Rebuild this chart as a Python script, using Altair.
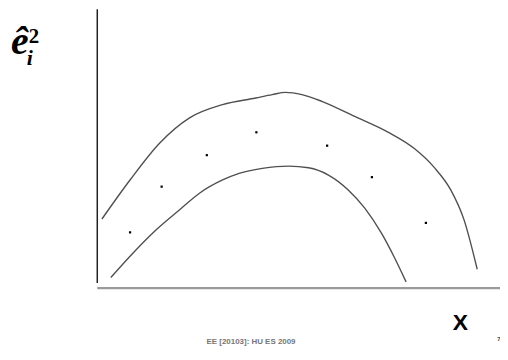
import altair as alt
import pandas as pd

# ---- data (abstract units) ----
point_x = [0.82, 1.61, 2.74, 3.98, 5.75, 6.87, 8.22]
point_y = [2.00, 3.64, 4.77, 5.59, 5.11, 3.98, 2.34]

upper_x = [0.116, 0.819, 1.563, 2.308, 3.135, 3.962, 4.375, 4.706, 5.120, 5.616,
           6.443, 7.270, 7.932, 8.428, 8.842, 9.173, 9.504]
upper_y = [2.479, 3.879, 5.207, 6.109, 6.584, 6.821, 6.940, 7.022, 6.940, 6.702,
           6.157, 5.599, 5.006, 4.330, 3.523, 2.456, 0.676]

lower_x = [0.339, 0.902, 1.481, 2.060, 2.556, 3.135, 3.548, 4.127, 4.789, 5.285,
           5.782, 6.278, 6.691, 7.105, 7.436, 7.725]
lower_y = [0.380, 1.269, 2.100, 2.811, 3.405, 3.879, 4.116, 4.294, 4.377, 4.318,
           4.057, 3.523, 2.871, 1.981, 1.091, 0.225]

y_label_main = "ê"
y_label_sub = "i"
y_label_sup = "2"
x_label = "X"
footer_text = "EE [20103]: HU ES 2009"
page_number = "7"

X_DOMAIN = [-2.2334, 10.0743]
Y_DOMAIN = [-2.0996, 10.0]

xs = alt.Scale(domain=X_DOMAIN, nice=False, zero=False)
ys = alt.Scale(domain=Y_DOMAIN, nice=False, zero=False)

band_rows = []
for i, (x, y) in enumerate(zip(upper_x, upper_y)):
    band_rows.append({"curve": "upper", "order": i, "x": x, "y": y})
for i, (x, y) in enumerate(zip(lower_x, lower_y)):
    band_rows.append({"curve": "lower", "order": i, "x": x, "y": y})
band = pd.DataFrame(band_rows)

points = pd.DataFrame({"x": point_x, "y": point_y})

lines = alt.Chart(band).mark_line(
    interpolate="monotone", color="#505050", strokeWidth=1.4
).encode(
    x=alt.X("x:Q", scale=xs, axis=None),
    y=alt.Y("y:Q", scale=ys, axis=None),
    detail="curve:N",
    order="order:Q",
)

dots = alt.Chart(points).mark_square(size=5, color="black", opacity=1).encode(
    x=alt.X("x:Q", scale=xs, axis=None),
    y=alt.Y("y:Q", scale=ys, axis=None),
)

vaxis = alt.Chart(pd.DataFrame({"x": [0.0], "y": [0.18], "y2": [10.0]})).mark_rule(
    color="#222222", strokeWidth=1.5
).encode(
    x=alt.X("x:Q", scale=xs, axis=None),
    y=alt.Y("y:Q", scale=ys, axis=None),
    y2="y2:Q",
)

haxis = alt.Chart(pd.DataFrame({"x": [0.0], "x2": [10.1], "y": [0.0]})).mark_rule(
    color="#9a9a9a", strokeWidth=2.2
).encode(
    x=alt.X("x:Q", scale=xs, axis=None),
    x2="x2:Q",
    y=alt.Y("y:Q", scale=ys, axis=None),
)


def label(text, x, y, **kw):
    return alt.Chart(pd.DataFrame({"t": [text]})).mark_text(**kw).encode(
        x=alt.value(x), y=alt.value(y), text="t:N"
    )


e_main = label(y_label_main, 3, 45, font="Liberation Serif", fontSize=40,
               fontStyle="italic", fontWeight="bold", align="left",
               baseline="alphabetic", color="black")
e_sub = label(y_label_sub, 19, 56, font="Liberation Serif", fontSize=22,
              fontStyle="italic", fontWeight="bold", align="left",
              baseline="alphabetic", color="black")
e_sup = label(y_label_sup, 21, 34, font="Liberation Serif", fontSize=21,
              fontWeight="bold", align="left", baseline="alphabetic",
              color="black")
x_lab = label(x_label, 456, 323, font="Liberation Sans Narrow, Liberation Sans",
              fontSize=23, fontWeight="bold", align="center",
              baseline="alphabetic", color="black")
footer = label(footer_text, 245, 337, font="Liberation Sans Narrow, Liberation Sans",
               fontSize=8, fontWeight="bold", align="center",
               baseline="alphabetic", color="#777777")
pnum = label(page_number, 495, 334, font="Liberation Sans", fontSize=6,
             fontWeight="bold", align="center", baseline="alphabetic",
             color="#444444")

chart = alt.layer(
    haxis, vaxis, lines, dots, e_main, e_sub, e_sup, x_lab, footer, pnum
).properties(
    width=496, height=340,
    autosize=alt.AutoSizeParams(type="none"),
    padding=0,
    background="white",
).configure_view(stroke=None)

chart.save("out.html", embed_options={"renderer": "svg", "actions": False})
